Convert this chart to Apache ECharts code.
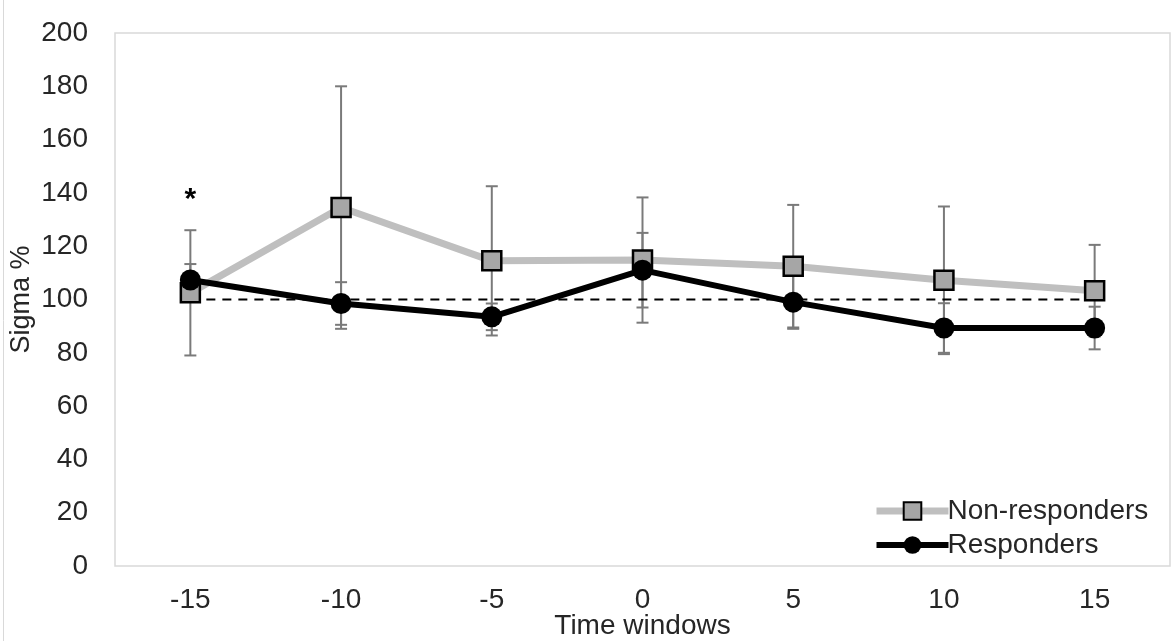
<!DOCTYPE html>
<html>
<head>
<meta charset="utf-8">
<script src="https://cdn.jsdelivr.net/npm/echarts@6/dist/echarts.min.js"></script>
<style>html,body{margin:0;padding:0;background:#fff;}#chart{width:1172px;height:641px;}</style>
</head>
<body>
<div id="chart"></div>
<script>
var categories = ['-15', '-10', '-5', '0', '5', '10', '15'];
var nonResponders = [102.5, 134.5, 114.5, 114.8, 112.5, 107.2, 103.3];
var nonRespErr = [23.5, 45.5, 28, 23.5, 23, 27.7, 17.2];
var responders = [107.3, 98.5, 93.5, 111, 99, 89.3, 89.3];
var respErr = [6, 8, 5, 14, 10, 9.3, 8];
var referenceLevel = [100, 100, 100, 100, 100, 100, 100];
var yTicks = { min: 0, max: 200, interval: 20 };
var asterisk = { category: '-15', value: 139, text: '*' };

var font = 'Liberation Sans, Arial, sans-serif';

function errData(vals, errs) {
  return vals.map(function (v, i) { return [i, v - errs[i], v + errs[i]]; });
}

function errRender(params, api) {
  var x = api.value(0);
  var lo = api.coord([x, api.value(1)]);
  var hi = api.coord([x, api.value(2)]);
  var cap = 6;
  var style = { stroke: '#7a7a7a', lineWidth: 2 };
  return {
    type: 'group',
    children: [
      { type: 'line', shape: { x1: lo[0], y1: lo[1], x2: hi[0], y2: hi[1] }, style: style },
      { type: 'line', shape: { x1: lo[0] - cap, y1: lo[1], x2: lo[0] + cap, y2: lo[1] }, style: style },
      { type: 'line', shape: { x1: hi[0] - cap, y1: hi[1], x2: hi[0] + cap, y2: hi[1] }, style: style }
    ]
  };
}

var chart = echarts.init(document.getElementById('chart'));
chart.setOption({
  animation: false,
  textStyle: { fontFamily: font },
  graphic: [
    { type: 'line', shape: { x1: 3.5, y1: 0, x2: 3.5, y2: 641 }, style: { stroke: '#d9d9d9', lineWidth: 1 } }
  ],
  grid: {
    left: 115, right: 2, top: 33, bottom: 75,
    outerBoundsMode: 'none',
    containLabel: false,
    show: true, borderColor: '#d9d9d9', borderWidth: 1.5
  },
  legend: {
    data: [
      { name: 'Non-responders', lineStyle: { width: 7 } },
      { name: 'Responders', lineStyle: { width: 6 } }
    ],
    orient: 'vertical',
    left: 868, top: 492,
    itemWidth: 72, itemHeight: 22, itemGap: 6,
    textStyle: { fontSize: 28, color: '#262626', fontFamily: font, padding: [0, 0, 0, -6] }
  },
  xAxis: {
    type: 'category',
    data: categories,
    boundaryGap: true,
    axisLine: { show: false },
    axisTick: { show: false },
    axisLabel: { fontSize: 28, color: '#262626', margin: 20 },
    name: 'Time windows',
    nameLocation: 'middle',
    nameGap: 46,
    nameMoveOverlap: false,
    nameTextStyle: { fontSize: 28, color: '#262626' }
  },
  yAxis: {
    type: 'value',
    min: yTicks.min, max: yTicks.max, interval: yTicks.interval,
    splitLine: { show: false },
    axisLine: { show: false },
    axisTick: { show: false },
    axisLabel: { fontSize: 28, color: '#262626', margin: 27 },
    name: 'Sigma %',
    nameLocation: 'middle',
    nameGap: 80,
    nameMoveOverlap: false,
    nameTextStyle: { fontSize: 27, color: '#262626' }
  },
  series: [
    {
      name: 'errNR', type: 'custom', renderItem: errRender,
      data: errData(nonResponders, nonRespErr), z: 1, silent: true
    },
    {
      name: 'errR', type: 'custom', renderItem: errRender,
      data: errData(responders, respErr), z: 1, silent: true
    },
    {
      name: 'ref', type: 'line', data: referenceLevel, symbol: 'none', z: 2,
      lineStyle: { color: '#000', width: 2, type: [9, 7] }
    },
    {
      name: 'Non-responders', type: 'line', data: nonResponders, z: 3,
      symbol: 'rect', symbolSize: 19,
      lineStyle: { color: '#bfbfbf', width: 7 },
      itemStyle: { color: '#a6a6a6', borderColor: '#000', borderWidth: 2.5 }
    },
    {
      name: 'Responders', type: 'line', data: responders, z: 4,
      symbol: 'circle', symbolSize: 21,
      lineStyle: { color: '#000', width: 6 },
      itemStyle: { color: '#000' },
      markPoint: {
        symbol: 'circle', symbolSize: 1,
        itemStyle: { color: 'rgba(0,0,0,0)' },
        label: { show: true, formatter: asterisk.text, fontSize: 30, fontWeight: 'bold', color: '#000', position: 'inside', offset: [0, 4] },
        data: [{ coord: [asterisk.category, asterisk.value] }]
      }
    }
  ]
});
</script>
</body>
</html>
